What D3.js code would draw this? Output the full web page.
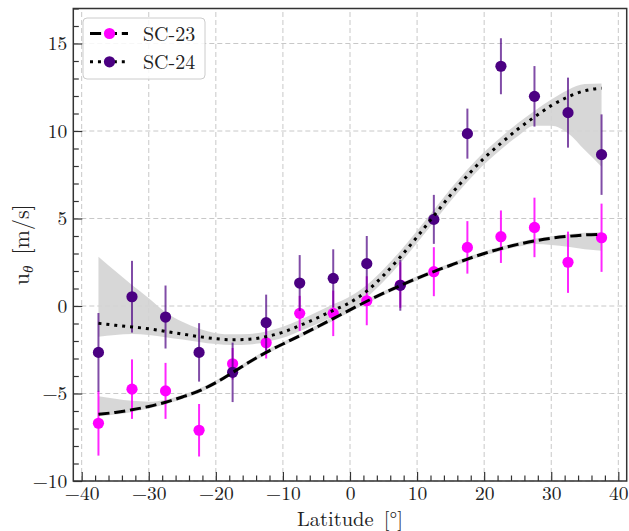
<!DOCTYPE html>
<html>
<head>
<meta charset="utf-8">
<script src="https://cdn.jsdelivr.net/npm/d3@7"></script>
<style>
  body { margin: 0; background: #fff; }
</style>
</head>
<body>
<div id="chart"></div>
<script>
// binned latitudes (centres) and the two cycles
const lat = [-37.5, -32.5, -27.5, -22.5, -17.5, -12.5, -7.5, -2.5, 2.5, 7.5, 12.5, 17.5, 22.5, 27.5, 32.5, 37.5];
const sc23 = [-6.7, -4.75, -4.85, -7.1, -3.3, -2.1, -0.42, -0.42, 0.3, 1.2, 1.96, 3.35, 3.96, 4.49, 2.5, 3.9];
const sc23Err = [1.85, 1.7, 1.6, 1.5, 0.9, 0.9, 1.0, 1.3, 1.4, 1.3, 1.4, 1.5, 1.5, 1.7, 1.75, 1.95];
const sc24 = [-2.65, 0.53, -0.63, -2.65, -3.79, -0.95, 1.31, 1.58, 2.42, 1.18, 4.95, 9.85, 13.7, 11.98, 11.05, 8.65];
const sc24Err = [2.25, 2.05, 1.8, 1.67, 1.7, 1.6, 1.6, 1.66, 1.58, 1.45, 1.4, 1.43, 1.6, 1.73, 2.0, 2.3];

// fitted profiles with their shaded bands
const fitLat = [-37.5, -35, -32.5, -30, -27.5, -25, -22.5, -20, -17.5, -15, -12.5, -10, -7.5, -5, -2.5, 0,
                2.5, 5, 7.5, 10, 12.5, 15, 17.5, 20, 22.5, 25, 27.5, 30, 32.5, 35, 37.5];
const fit23 = [-6.19, -6.08, -5.93, -5.74, -5.5, -5.2, -4.85, -4.38, -3.8, -3.2, -2.65, -2.17, -1.7, -1.22, -0.72, -0.22,
               0.27, 0.73, 1.17, 1.58, 1.97, 2.33, 2.68, 3.0, 3.28, 3.52, 3.72, 3.87, 3.98, 4.06, 4.1];
const fit23Hi = [-5.15, -5.3, -5.42, -5.47, -5.35, -5.08, -4.73, -4.26, -3.68, -3.08, -2.53, -2.05, -1.58, -1.1, -0.6, -0.1,
                 0.39, 0.85, 1.29, 1.7, 2.09, 2.45, 2.8, 3.12, 3.4, 3.64, 3.84, 3.99, 4.1, 4.18, 4.22];
const fit23Lo = [-6.3, -6.2, -6.05, -5.86, -5.62, -5.32, -4.97, -4.5, -3.92, -3.32, -2.77, -2.29, -1.82, -1.34, -0.84, -0.34,
                 0.15, 0.61, 1.05, 1.46, 1.85, 2.21, 2.56, 2.88, 3.15, 3.38, 3.55, 3.49, 3.39, 3.24, 3.16];
const fit24 = [-0.99, -1.1, -1.2, -1.3, -1.45, -1.6, -1.75, -1.87, -1.93, -1.9, -1.75, -1.5, -1.12, -0.7, -0.25, 0.2,
               0.85, 1.75, 2.8, 3.95, 5.15, 6.35, 7.45, 8.45, 9.3, 10.1, 10.8, 11.45, 11.95, 12.3, 12.45];
const fit24Hi = [2.82, 2.0, 1.2, 0.45, -0.35, -0.9, -1.3, -1.55, -1.62, -1.6, -1.45, -1.18, -0.8, -0.36, 0.1, 0.55,
                 1.2, 2.1, 3.15, 4.3, 5.5, 6.7, 7.8, 8.8, 9.65, 10.45, 11.15, 11.8, 12.35, 12.68, 12.72];
const fit24Lo = [-1.75, -1.65, -1.6, -1.65, -1.78, -1.92, -2.05, -2.17, -2.23, -2.2, -2.05, -1.82, -1.44, -1.04, -0.6, -0.15,
                 0.5, 1.4, 2.45, 3.6, 4.8, 6.0, 7.1, 8.1, 8.95, 9.7, 10.3, 10.3, 9.87, 8.91, 7.96];

const xTicks = [-40, -30, -20, -10, 0, 10, 20, 30, 40];
const yTicks = [-10, -5, 0, 5, 10, 15];

const W = 629, H = 531;
const m = {left: 73.3, right: 2.3, top: 8.5, bottom: 50};
const FONT = "Latin Modern Roman, Liberation Serif, serif";

const svg = d3.select("#chart").append("svg")
  .attr("width", W).attr("height", H);

const x = d3.scaleLinear().domain([-41.25, 41.25]).range([m.left, W - m.right]);
const y = d3.scaleLinear().domain([-10, 17]).range([H - m.bottom, m.top]);

// grid
const grid = svg.append("g").attr("stroke", "#c8c8c8").attr("stroke-width", 1).attr("stroke-dasharray", "5,3");
xTicks.forEach(t => grid.append("line").attr("x1", x(t)).attr("x2", x(t)).attr("y1", y(-10)).attr("y2", y(17)));
yTicks.forEach(t => grid.append("line").attr("y1", y(t)).attr("y2", y(t)).attr("x1", x(-41.25)).attr("x2", x(41.25)));

// bands
const band = (lo, hi) => d3.area()
  .x((d, i) => x(fitLat[i]))
  .y0((d, i) => y(lo[i]))
  .y1((d, i) => y(hi[i]))
  .curve(d3.curveMonotoneX)(fitLat);

svg.append("path").attr("d", band(fit23Lo, fit23Hi)).attr("fill", "#d3d3d3").attr("opacity", 0.9);
svg.append("path").attr("d", band(fit24Lo, fit24Hi)).attr("fill", "#d3d3d3").attr("opacity", 0.9);

// error bars + points
function drawSeries(vals, errs, col, op) {
  const g = svg.append("g");
  g.selectAll("line").data(vals).join("line")
    .attr("x1", (d, i) => x(lat[i])).attr("x2", (d, i) => x(lat[i]))
    .attr("y1", (d, i) => y(d - errs[i])).attr("y2", (d, i) => y(d + errs[i]))
    .attr("stroke", col).attr("stroke-opacity", op).attr("stroke-width", 2);
  g.selectAll("circle").data(vals).join("circle")
    .attr("cx", (d, i) => x(lat[i])).attr("cy", d => y(d))
    .attr("r", 5.6).attr("fill", col);
}
drawSeries(sc23, sc23Err, "#ff00ff", 0.85);
drawSeries(sc24, sc24Err, "#4b0082", 0.7);

// fit lines
const line = vals => d3.line()
  .x((d, i) => x(fitLat[i]))
  .y((d, i) => y(vals[i]))
  .curve(d3.curveMonotoneX)(fitLat);

svg.append("path").attr("d", line(fit23)).attr("fill", "none").attr("stroke", "#000")
  .attr("stroke-width", 3).attr("stroke-dasharray", "11.1,4.8");
svg.append("path").attr("d", line(fit24)).attr("fill", "none").attr("stroke", "#000")
  .attr("stroke-width", 3).attr("stroke-dasharray", "3,4.95");

// axes (ticks pointing inward)
const fmt = d => d < 0 ? "\u2212" + Math.abs(d) : d;
svg.append("g").attr("transform", `translate(0,${H - m.bottom})`)
  .call(d3.axisBottom(x).tickValues(xTicks).tickSizeInner(-9).tickSizeOuter(0).tickPadding(5).tickFormat(fmt));
svg.append("g").attr("transform", `translate(0,${H - m.bottom})`)
  .call(d3.axisBottom(x).tickValues(d3.range(-40, 41, 2).filter(v => v % 10 !== 0)).tickSizeInner(-5.5).tickSizeOuter(0).tickFormat(""));
svg.append("g").attr("transform", `translate(${m.left},0)`)
  .call(d3.axisLeft(y).tickValues(yTicks).tickSizeInner(-9).tickSizeOuter(0).tickPadding(6).tickFormat(fmt));
svg.append("g").attr("transform", `translate(${m.left},0)`)
  .call(d3.axisLeft(y).tickValues(d3.range(-10, 18, 1).filter(v => v % 5 !== 0)).tickSizeInner(-5.5).tickSizeOuter(0).tickFormat(""));

svg.selectAll(".domain").remove();
svg.selectAll(".tick line").attr("stroke", "#333").attr("stroke-width", 1.2);
svg.selectAll(".tick text").attr("font-size", 19.5).attr("fill", "#222");

// frame
svg.append("rect").attr("x", x(-41.25)).attr("y", y(17))
  .attr("width", x(41.25) - x(-41.25)).attr("height", y(-10) - y(17))
  .attr("fill", "none").attr("stroke", "#333").attr("stroke-width", 1.5);

// labels
svg.append("text").attr("x", (x(-41.25) + x(41.25)) / 2).attr("y", 525.5)
  .attr("text-anchor", "middle").attr("font-size", 20.5).attr("fill", "#222").text("Latitude\u2002[°]");
const yl = svg.append("text")
  .attr("transform", `translate(29,${(y(-10) + y(17)) / 2}) rotate(-90)`)
  .attr("text-anchor", "middle").attr("font-size", 22).attr("fill", "#222");
yl.append("tspan").text("u");
yl.append("tspan").attr("font-size", 15).attr("font-style", "italic").attr("dy", 4).text("θ");
yl.append("tspan").attr("dy", -4).text("\u2002[m/s]");

// legend
const lg = svg.append("g").attr("transform", "translate(83,18)");
lg.append("rect").attr("width", 122).attr("height", 61).attr("rx", 4)
  .attr("fill", "#fff").attr("fill-opacity", 0.85).attr("stroke", "#ccc").attr("stroke-width", 1);
const entries = [
  {name: "SC-23", col: "#ff00ff", dash: "11.1,4.8"},
  {name: "SC-24", col: "#4b0082", dash: "3,4.95"}
];
entries.forEach((e, i) => {
  const cy = 15.5 + i * 28.3;
  lg.append("line").attr("x1", 7).attr("x2", 45).attr("y1", cy).attr("y2", cy)
    .attr("stroke", "#000").attr("stroke-width", 3).attr("stroke-dasharray", e.dash);
  lg.append("circle").attr("cx", 26.5).attr("cy", cy).attr("r", 5.6).attr("fill", e.col);
  lg.append("text").attr("x", 60).attr("y", cy + 7).attr("font-size", 20).attr("fill", "#222").text(e.name);
});

// serif (Computer Modern look) everywhere; axis groups set their own family
svg.selectAll("g").attr("font-family", null);
svg.selectAll("text").attr("font-family", FONT);
</script>
</body>
</html>
